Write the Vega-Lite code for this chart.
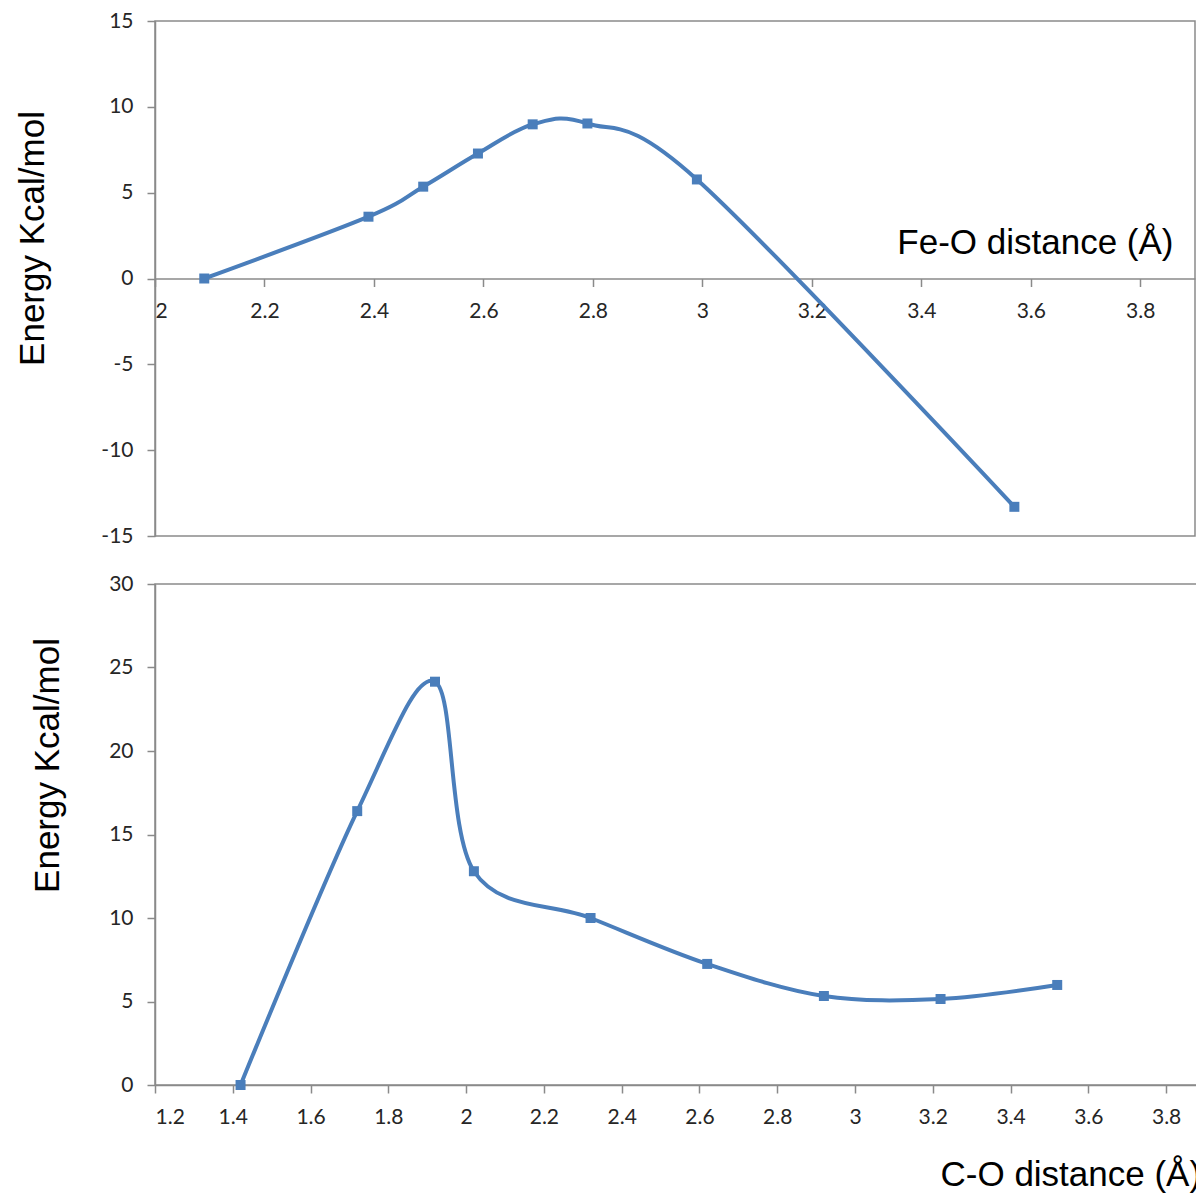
{
  "$schema": "https://vega.github.io/schema/vega-lite/v6.json",
  "background": "white",
  "padding": {"left": 14, "top": 9, "right": 0, "bottom": 0},
  "spacing": 48,
  "bounds": "flush",
  "config": {
    "view": {"stroke": "#8a8a8a", "strokeWidth": 1.5},
    "axis": {
      "grid": false,
      "domainColor": "#8a8a8a",
      "domainWidth": 1.5,
      "tickColor": "#8a8a8a",
      "tickWidth": 1.5,
      "tickSize": 8,
      "labelFont": "Lato",
      "labelFontSize": 21,
      "labelColor": "#262626",
      "titleFont": "Liberation Sans",
      "titleFontSize": 35,
      "titleFontWeight": "normal",
      "titleColor": "#000000"
    }
  },
  "datasets": {
    "feo": [
      {"d": 2.09, "e": 0},
      {"d": 2.39, "e": 3.6},
      {"d": 2.49, "e": 5.35},
      {"d": 2.59, "e": 7.28},
      {"d": 2.69, "e": 8.98},
      {"d": 2.79, "e": 9.03},
      {"d": 2.99, "e": 5.77},
      {"d": 3.57, "e": -13.3}
    ],
    "co": [
      {"d": 1.42, "e": 0},
      {"d": 1.72, "e": 16.4},
      {"d": 1.92, "e": 24.15},
      {"d": 2.02, "e": 12.8},
      {"d": 2.32, "e": 10},
      {"d": 2.62, "e": 7.25},
      {"d": 2.92, "e": 5.33},
      {"d": 3.22, "e": 5.15},
      {"d": 3.52, "e": 5.99}
    ]
  },
  "vconcat": [
    {
      "width": 1040,
      "height": 515,
      "data": {"name": "feo"},
      "encoding": {
        "x": {
          "field": "d", "type": "quantitative",
          "scale": {"domain": [2, 3.9], "nice": false, "zero": false},
          "axis": {
            "values": [2, 2.2, 2.4, 2.6, 2.8, 3, 3.2, 3.4, 3.6, 3.8],
            "labelExpr": "'' + datum.value",
            "offset": -257.5,
            "labelPadding": 14,
            "title": "Fe-O distance (Å)",
            "titleAlign": "right",
            "titleAnchor": "end",
            "titleX": 1018,
            "titleY": -25,
            "titleBaseline": "alphabetic"
          }
        },
        "y": {
          "field": "e", "type": "quantitative",
          "scale": {"domain": [-15, 15], "nice": false},
          "axis": {
            "values": [-15, -10, -5, 0, 5, 10, 15],
            "labelExpr": "'' + datum.value",
            "labelPadding": 14,
            "title": "Energy Kcal/mol",
            "titleAngle": -90,
            "titleAlign": "center",
            "titleBaseline": "alphabetic",
            "titleX": -112,
            "titleY": 217
          }
        }
      },
      "layer": [
        {"mark": {"type": "line", "interpolate": "cardinal", "tension": 0, "color": "#4a7ebb", "strokeWidth": 4}},
        {"mark": {"type": "square", "size": 100, "color": "#4a7ebb", "opacity": 1, "filled": true}}
      ]
    },
    {
      "width": 1050,
      "height": 501,
      "data": {"name": "co"},
      "encoding": {
        "x": {
          "field": "d", "type": "quantitative",
          "scale": {"domain": [1.2, 3.9], "nice": false, "zero": false},
          "axis": {
            "values": [1.2, 1.4, 1.6, 1.8, 2, 2.2, 2.4, 2.6, 2.8, 3, 3.2, 3.4, 3.6, 3.8],
            "labelExpr": "'' + datum.value",
            "labelPadding": 13,
            "title": "C-O distance (Å)",
            "titleAlign": "left",
            "titleAnchor": "start",
            "titleX": 785,
            "titleY": 100,
            "titleBaseline": "alphabetic"
          }
        },
        "y": {
          "field": "e", "type": "quantitative",
          "scale": {"domain": [0, 30], "nice": false},
          "axis": {
            "values": [0, 5, 10, 15, 20, 25, 30],
            "labelExpr": "'' + datum.value",
            "labelPadding": 14,
            "title": "Energy Kcal/mol",
            "titleAngle": -90,
            "titleAlign": "center",
            "titleBaseline": "alphabetic",
            "titleX": -97,
            "titleY": 181
          }
        }
      },
      "layer": [
        {"mark": {"type": "line", "interpolate": "cardinal", "tension": 0, "color": "#4a7ebb", "strokeWidth": 4}},
        {"mark": {"type": "square", "size": 100, "color": "#4a7ebb", "opacity": 1, "filled": true}}
      ]
    }
  ]
}
